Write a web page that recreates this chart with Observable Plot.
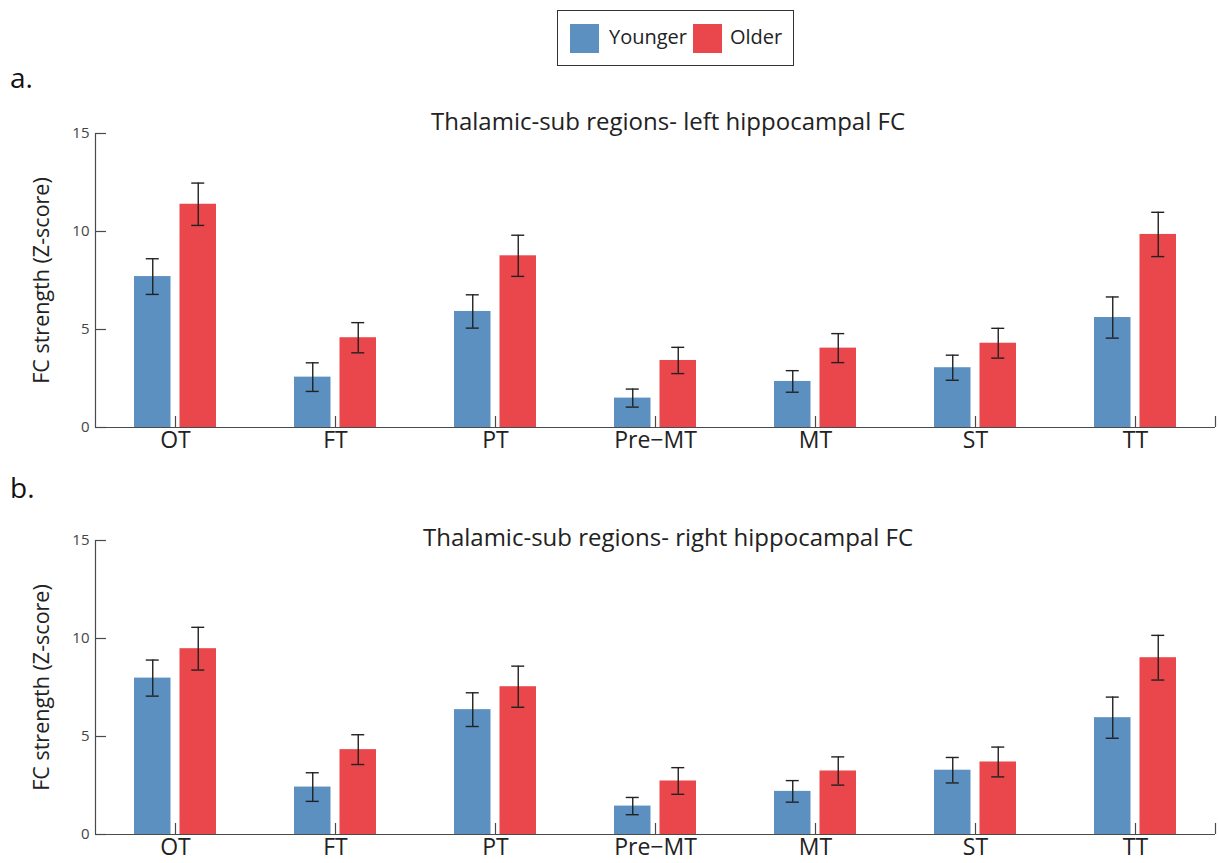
<!DOCTYPE html>
<html>
<head>
<meta charset="utf-8">
<script src="https://cdn.jsdelivr.net/npm/d3@7"></script>
<script src="https://cdn.jsdelivr.net/npm/@observablehq/plot@0.6"></script>
<style>
  html, body { margin: 0; padding: 0; background: #fff; }
  #page { position: relative; width: 1219px; height: 863px; overflow: hidden; font-family: "Open Sans", sans-serif; color: #222; }
  .abs { position: absolute; line-height: 1; white-space: nowrap; }
  .panel-label { font-size: 28px; color: #111; }
  .title { font-size: 24px; color: #222; transform: translateX(-50%); }
  #legend { position: absolute; left: 557px; top: 10px; width: 235px; height: 54px; border: 1px solid #333; }
  .sw { position: absolute; width: 29px; height: 29px; top: 13px; }
  .lt { position: absolute; font-size: 20px; line-height: 1; top: 16px; color: #222; }
  .plot { position: absolute; left: 0; }
</style>
</head>
<body>
<div id="page">
  <div id="legend">
    <div class="sw" id="sw0" style="left:12px"></div>
    <div class="lt" id="lt0" style="left:51px"></div>
    <div class="sw" id="sw1" style="left:135px"></div>
    <div class="lt" id="lt1" style="left:172px"></div>
  </div>
  <div class="abs panel-label" style="left:10px; top:63px">a.</div>
  <div class="abs panel-label" style="left:10px; top:473px">b.</div>
  <div class="abs title" style="left:668px; top:109px">Thalamic-sub regions- left hippocampal FC</div>
  <div class="abs title" style="left:668px; top:525px">Thalamic-sub regions- right hippocampal FC</div>
  <div class="plot" id="panelA" style="top:110px"></div>
  <div class="plot" id="panelB" style="top:517px"></div>
</div>
<script>
// Thalamic sub-regions and the two age groups
const categories = ["OT", "FT", "PT", "Pre\u2212MT", "MT", "ST", "TT"];
const groups = ["Younger", "Older"];
const groupColors = ["#5b90c1", "#e9474c"];
const yTicks = [0, 5, 10, 15];

// Left hippocampal FC (mean and error)
const leftYounger    = [7.70, 2.57, 5.92, 1.50, 2.35, 3.05, 5.61];
const leftYoungerErr = [0.91, 0.73, 0.85, 0.46, 0.55, 0.64, 1.05];
const leftOlder      = [11.39, 4.58, 8.76, 3.42, 4.05, 4.30, 9.85];
const leftOlderErr   = [1.08, 0.77, 1.05, 0.67, 0.74, 0.76, 1.13];

// Right hippocampal FC (mean and error)
const rightYounger    = [7.98, 2.42, 6.37, 1.45, 2.20, 3.28, 5.96];
const rightYoungerErr = [0.92, 0.73, 0.86, 0.44, 0.55, 0.65, 1.05];
const rightOlder      = [9.48, 4.33, 7.54, 2.73, 3.24, 3.70, 9.02];
const rightOlderErr   = [1.09, 0.76, 1.05, 0.68, 0.72, 0.76, 1.14];

// legend
groups.forEach((g, k) => {
  document.getElementById("sw" + k).style.background = groupColors[k];
  document.getElementById("lt" + k).textContent = g;
});

// layout (pixels)
const W = 1219, ML = 95, MR = 4, MT = 23, MB = 36, INNER_H = 294;
const BAR_W = 36.5, BAR_GAP = 9, CAP_W = 13, TICK = 11;

function panel(younger, youngerErr, older, olderErr) {
  const rows = categories.flatMap((c, i) => [
    {cat: c, i: i + 1, group: groups[0], value: younger[i], err: youngerErr[i]},
    {cat: c, i: i + 1, group: groups[1], value: older[i], err: olderErr[i]}
  ]);
  const unit = (W - ML - MR) / categories.length;   // px per category
  const yUnit = INNER_H / 15;                        // px per z-score unit
  const off = d => (d.group === groups[0] ? -1 : 1) * (BAR_W + BAR_GAP) / 2 / unit;
  const cx = d => d.i + off(d);
  const hw = BAR_W / 2 / unit, cap = CAP_W / 2 / unit;
  const axisColor = "#4a4a4a";

  return Plot.plot({
    width: W,
    height: MT + INNER_H + MB,
    marginLeft: ML, marginRight: MR, marginTop: MT, marginBottom: MB,
    style: {fontFamily: "Open Sans, sans-serif", background: "transparent", overflow: "visible"},
    x: {domain: [0.5, categories.length + 0.5], axis: null},
    y: {domain: [0, 15], axis: null},
    color: {domain: groups, range: groupColors},
    marks: [
      // bars
      Plot.rectY(rows, {x1: d => cx(d) - hw, x2: d => cx(d) + hw, y1: 0, y2: "value", fill: "group"}),
      // error bars with caps
      Plot.ruleX(rows, {x: cx, y1: d => d.value - d.err, y2: d => d.value + d.err, stroke: "#222", strokeWidth: 1.4}),
      Plot.ruleY(rows, {y: d => d.value + d.err, x1: d => cx(d) - cap, x2: d => cx(d) + cap, stroke: "#222", strokeWidth: 1.4}),
      Plot.ruleY(rows, {y: d => d.value - d.err, x1: d => cx(d) - cap, x2: d => cx(d) + cap, stroke: "#222", strokeWidth: 1.4}),
      // axis lines
      Plot.ruleY([0], {stroke: axisColor, strokeWidth: 1.2}),
      Plot.ruleX([0.5], {y1: 0, y2: 15, stroke: axisColor, strokeWidth: 1.2}),
      // inward ticks
      Plot.ruleX(d3.range(1, categories.length + 1).concat([categories.length + 0.5]),
        {x: d => d, y1: 0, y2: TICK / yUnit, stroke: axisColor, strokeWidth: 1.2}),
      Plot.ruleY(yTicks, {y: d => d, x1: 0.5, x2: 0.5 + TICK / unit, stroke: axisColor, strokeWidth: 1.2}),
      // tick labels
      Plot.text(yTicks, {x: 0.5, y: d => d, text: d => String(d), textAnchor: "end", dx: -6, fontSize: 15, fill: "#444"}),
      Plot.text(categories, {x: (d, i) => i + 1, y: 0, text: d => d, lineAnchor: "top", dy: 4, fontSize: 23, fill: "#222"}),
      // y-axis title
      Plot.text(["FC strength (Z-score)"], {frameAnchor: "left", textAnchor: "middle", rotate: -90, dx: -53, fontSize: 21.5, fill: "#222"})
    ]
  });
}

document.getElementById("panelA").appendChild(panel(leftYounger, leftYoungerErr, leftOlder, leftOlderErr));
document.getElementById("panelB").appendChild(panel(rightYounger, rightYoungerErr, rightOlder, rightOlderErr));
</script>
</body>
</html>
